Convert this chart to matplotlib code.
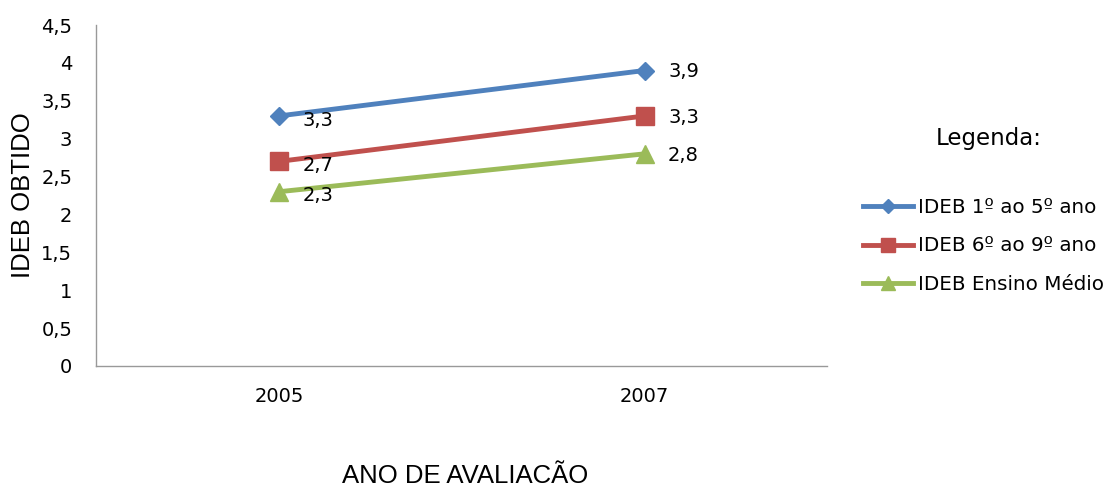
import numpy as np
import matplotlib.pyplot as plt
from matplotlib.lines import Line2D

years = ['2005', '2007']
serie_1a5 = [3.3, 3.9]
serie_6a9 = [2.7, 3.3]
serie_medio = [2.3, 2.8]
nomes = ['IDEB 1º ao 5º ano', 'IDEB 6º ao 9º ano', 'IDEB Ensino Médio']
yticks = [0, 0.5, 1, 1.5, 2, 2.5, 3, 3.5, 4, 4.5]

cores = ['#4F81BD', '#C0504D', '#9BBB59']
marcadores = ['D', 's', '^']
tamanhos = [9.5, 13, 13]

plt.rcParams['font.family'] = ['DejaVu Sans']

fig = plt.figure(figsize=(11.2, 4.91), dpi=100)
ax = fig.add_axes([0.0857, 0.2546, 0.653, 0.6944])

x = np.arange(len(years))
series = [serie_1a5, serie_6a9, serie_medio]
for vals, cor, mk, ms, nome in zip(series, cores, marcadores, tamanhos, nomes):
    ax.plot(x, vals, color=cor, lw=3.5, marker=mk, ms=ms, label=nome)
    for i, v in enumerate(vals):
        dy = -3 if i == 0 else -1
        ax.annotate(('%.1f' % v).replace('.', ','), (x[i], v), xytext=(17, dy),
                    textcoords='offset points', ha='left', va='center', fontsize=14)

ax.set_xlim(-0.5, 1.5)
ax.set_ylim(0, 4.5)
ax.set_xticks(x)
ax.set_xticklabels(years, fontsize=14)
ax.set_yticks(yticks)
ax.set_yticklabels([('%g' % t).replace('.', ',') for t in yticks], fontsize=14)
ax.tick_params(axis='y', length=0, pad=17)
ax.tick_params(axis='x', length=0, pad=15)
for s in ['top', 'right']:
    ax.spines[s].set_visible(False)
for s in ['left', 'bottom']:
    ax.spines[s].set_color('#999999')
    ax.spines[s].set_linewidth(1)

fig.text(0.0205, 1 - 195 / 491, 'IDEB OBTIDO', rotation=90, ha='center', va='center',
         fontsize=18.5, family='Liberation Sans')
fig.text(465 / 1120, 1 - 476 / 491, 'ANO DE AVALIACÃO', ha='center', va='center',
         fontsize=18.5, family='Liberation Sans')

fig.text(989 / 1120, 1 - 138 / 491, 'Legenda:', ha='center', va='center', fontsize=16.5)
handles = [Line2D([], [], color=c, lw=3.5, marker=m, ms=s * 0.75)
           for c, m, s in zip(cores, marcadores, tamanhos)]
fig.legend(handles, nomes, loc='center left', bbox_to_anchor=(863 / 1120, 1 - 246 / 491),
           frameon=False, fontsize=14.3, handlelength=2.5, handletextpad=0.25,
           labelspacing=1.0, borderpad=0, borderaxespad=0)

fig.savefig('out.png', dpi=100)
